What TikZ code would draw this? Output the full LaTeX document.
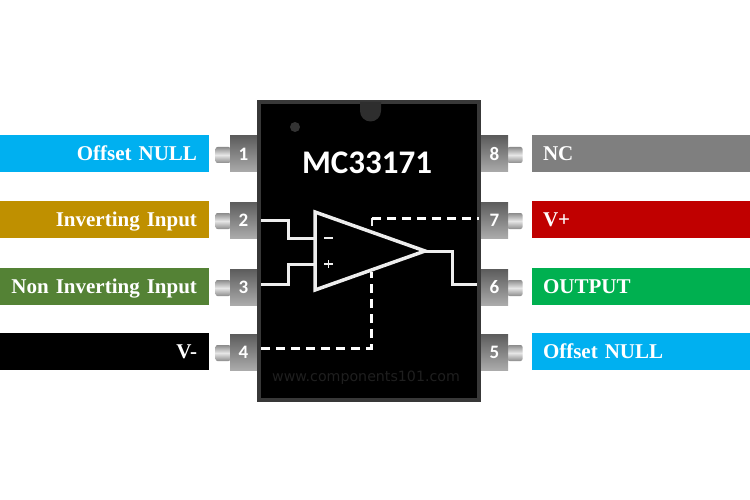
\documentclass[tikz,border=0pt]{standalone}
\usepackage{fontspec}
\setmainfont{Liberation Serif}
\newfontfamily\carl{Carlito}
\newfontfamily\dej{DejaVu Sans}
\definecolor{cblue}{HTML}{00B0F0}
\definecolor{cgold}{HTML}{BF9000}
\definecolor{cgreen}{HTML}{548235}
\definecolor{cgrey}{HTML}{7F7F7F}
\definecolor{cred}{HTML}{C00000}
\definecolor{cgreen2}{HTML}{00B050}
\definecolor{pintop}{HTML}{5C5C5C}
\definecolor{pinbot}{HTML}{ABABAB}
\definecolor{tipa}{HTML}{8C8C8C}
\definecolor{tipb}{HTML}{E6E6E6}
\definecolor{wirec}{HTML}{EDEDED}
\tikzset{
  lab/.style={minimum height=37pt,inner sep=0pt,outer sep=0pt,text=white,anchor=north west,
    font=\bfseries\fontsize{21}{21}\selectfont,text height=14pt,text depth=0pt},
  labl/.style={lab,minimum width=209pt,text width=185pt,align=right},
  labr/.style={lab,minimum width=218pt,text width=196pt,align=left},
  pinbody/.style={inner sep=0pt,outer sep=0pt,minimum width=27pt,minimum height=36pt,top color=pintop,bottom color=pinbot,text=white,font=\carl\bfseries\fontsize{19}{19}\selectfont},
  pintip/.style={inner sep=0pt,outer sep=0pt,minimum width=15pt,minimum height=16pt,rounded corners=2pt,top color=tipa,bottom color=tipa,middle color=tipb},
  wire/.style={draw=wirec,line width=3pt,line join=miter},
  dwire/.style={draw=white,line width=3pt,dash pattern=on 9pt off 6pt},
}
\begin{document}
\begin{tikzpicture}[x=1pt,y=-1pt]
\useasboundingbox (0,0) rectangle (750,500);
\fill[white] (0,0) rectangle (750,500);
% labels left
\node[labl,fill=cblue] (l1) at (0,135) {Offset NULL};
\node[labl,fill=cgold] (l2) at (0,201) {Inverting Input};
\node[labl,fill=cgreen] (l3) at (0,268) {\makebox[185pt][r]{Non Inverting Input}};
\node[labl,fill=black] (l4) at (0,333) {V-};
% labels right
\node[labr,fill=cgrey] (l8) at (532,135) {NC};
\node[labr,fill=cred] (l7) at (532,201) {V+};
\node[labr,fill=cgreen2] (l6) at (532,268) {OUTPUT};
\node[labr,fill=cblue] (l5) at (532,333) {Offset NULL};
% pins
\foreach \n/\y in {1/154,2/220,3/287,4/352}{
  \node[pintip] (tl\n) at (223,\y+1) {};
  \node[pinbody] (pl\n) at (243.5,\y) {\n};
}
\foreach \n/\y in {8/154,7/220,6/287,5/352}{
  \node[pintip] (tr\n) at (515,\y+1) {};
  \node[pinbody] (pr\n) at (494.5,\y) {\n};
}
% chip
\node[draw=black!78,line width=4pt,fill=black,minimum width=220pt,minimum height=298pt,inner sep=0pt,anchor=north west] (chip) at (257,100) {};
\fill[black!82] (360,102) -- (381,102) -- (381,111) arc[start angle=0,end angle=-180,radius=10.5pt] -- cycle;
\fill[black!80] (295,127) circle[radius=5pt];
\node[text=white,font=\carl\bfseries\fontsize{33}{33}\selectfont] (title) at (367,163) {MC33171};
\node[text=black!88,font=\dej\fontsize{14.2}{14.2}\selectfont] (web) at (366,378) {www.components101.com};
% op amp
\coordinate (ta) at (315,212);
\coordinate (tb) at (315,290);
\coordinate (tc) at (425,251);
\draw[wire,line width=3.5pt] (ta) -- (tb) -- (tc) -- cycle;
\draw[wire,line width=2pt] (324,238) -- (333,238);
\draw[wire,line width=1.8pt] (324,264) -- (333,264) (328.5,260) -- (328.5,268);
% wires
\draw[wire] (pl2.east) ++(4,0) -- ++(27,0) |- (ta |- 0,238);
\draw[wire] (pl3.east) ++(4,-3) -- ++(27,0) |- (ta |- 0,264);
\draw[wire] (tc) -- (452,251) |- ([shift={(-4pt,3pt)}]pr6.west);
\draw[dwire] (pl4.east) ++(4,-4) -- (371,348) -- (371,272);
\draw[wire,line width=2.5pt] (372,226) -- (372,218);
\draw[dwire] (372,218) -- ([shift={(-2pt,2pt)}]pr7.west);
\end{tikzpicture}
\end{document}
